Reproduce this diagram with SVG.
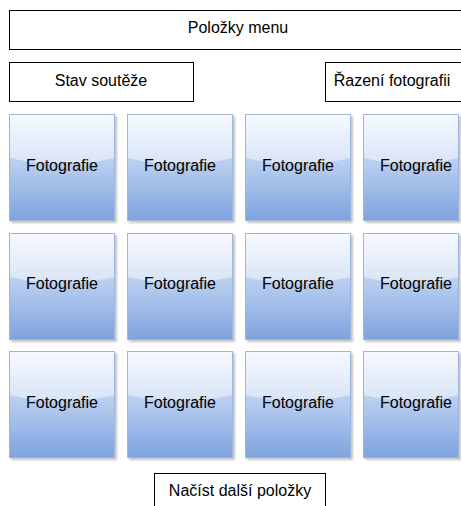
<svg xmlns="http://www.w3.org/2000/svg" xmlns:xlink="http://www.w3.org/1999/xlink" width="461" height="506" viewBox="0 0 461 506">
<style>
.box{fill:#fff;stroke:#000;stroke-width:1}
.lbl{font-family:"Liberation Sans",Arial,sans-serif;font-size:16px;fill:#000;text-anchor:middle}
</style>
<defs>
<linearGradient id="up" x1="0" y1="0" x2="0" y2="1">
<stop offset="0" stop-color="#f7faff"/>
<stop offset="1" stop-color="#d7e3f6"/>
</linearGradient>
<linearGradient id="low" x1="0" y1="0" x2="0" y2="1">
<stop offset="0" stop-color="#dce7f7"/>
<stop offset="0.45" stop-color="#bacff0"/>
<stop offset="1" stop-color="#7ea3df"/>
</linearGradient>
<filter id="sh" x="-10%" y="-10%" width="130%" height="130%"><feGaussianBlur stdDeviation="0.8"/></filter>
<g id="tile">
<rect x="2" y="2" width="106" height="107" fill="#c4c4c4" filter="url(#sh)"/>
<rect x="0.5" y="0.5" width="105" height="106" fill="url(#low)"/>
<path d="M0.5,0.5 H105.5 V44 Q53,56 0.5,44 Z" fill="url(#up)"/>
<rect x="0.5" y="0.5" width="105" height="106" fill="none" stroke="#9fb6dc"/>
</g>
<g id="tileN">
<rect x="2" y="2" width="96" height="107" fill="#c4c4c4" filter="url(#sh)"/>
<rect x="0.5" y="0.5" width="95" height="106" fill="url(#low)"/>
<path d="M0.5,0.5 H95.5 V44 Q48,56 0.5,44 Z" fill="url(#up)"/>
<rect x="0.5" y="0.5" width="95" height="106" fill="none" stroke="#9fb6dc"/>
</g>
</defs>
<rect width="461" height="506" fill="#fff"/>
<g id="connectors"/>
<g id="menu"><rect class="box" x="9.5" y="10.5" width="470" height="39"/><text class="lbl" x="238" y="33">Položky menu</text></g>
<g id="stav"><rect class="box" x="9.5" y="62.5" width="184" height="39"/><text class="lbl" x="101" y="86">Stav soutěže</text></g>
<g id="razeni"><rect class="box" x="325.5" y="62.5" width="150" height="39"/><text class="lbl" x="392" y="86">Řazení fotografii</text></g>
<g id="p11"><use xlink:href="#tile" x="9" y="114"/><text class="lbl" x="62" y="171">Fotografie</text></g>
<g id="p12"><use xlink:href="#tile" x="127" y="114"/><text class="lbl" x="180" y="171">Fotografie</text></g>
<g id="p13"><use xlink:href="#tile" x="245" y="114"/><text class="lbl" x="298" y="171">Fotografie</text></g>
<g id="p14"><use xlink:href="#tileN" x="363" y="114"/><text class="lbl" x="416" y="171">Fotografie</text></g>
<g id="p21"><use xlink:href="#tile" x="9" y="233"/><text class="lbl" x="62" y="289">Fotografie</text></g>
<g id="p22"><use xlink:href="#tile" x="127" y="233"/><text class="lbl" x="180" y="289">Fotografie</text></g>
<g id="p23"><use xlink:href="#tile" x="245" y="233"/><text class="lbl" x="298" y="289">Fotografie</text></g>
<g id="p24"><use xlink:href="#tileN" x="363" y="233"/><text class="lbl" x="416" y="289">Fotografie</text></g>
<g id="p31"><use xlink:href="#tile" x="9" y="351"/><text class="lbl" x="62" y="408">Fotografie</text></g>
<g id="p32"><use xlink:href="#tile" x="127" y="351"/><text class="lbl" x="180" y="408">Fotografie</text></g>
<g id="p33"><use xlink:href="#tile" x="245" y="351"/><text class="lbl" x="298" y="408">Fotografie</text></g>
<g id="p34"><use xlink:href="#tileN" x="363" y="351"/><text class="lbl" x="416" y="408">Fotografie</text></g>
<g id="nacist"><rect class="box" x="154.5" y="473.5" width="171" height="40"/><text class="lbl" x="240" y="496">Načíst další položky</text></g>
</svg>
